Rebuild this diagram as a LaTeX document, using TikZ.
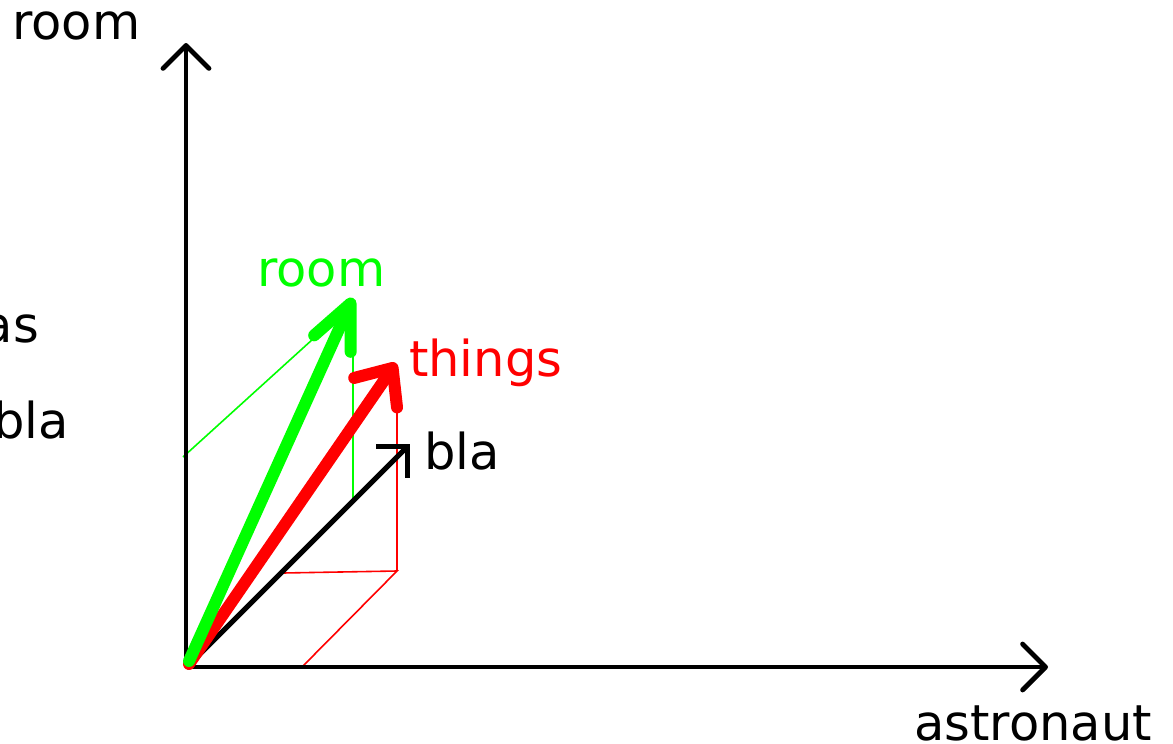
\documentclass[tikz,border=0pt]{standalone}
\usepackage{fontspec}
\setmainfont{DejaVu Sans}
\usetikzlibrary{arrows.meta}
\definecolor{vgreen}{RGB}{0,255,0}
\definecolor{vred}{RGB}{255,0,0}
\begin{document}
\begin{tikzpicture}[x=1pt,y=-1pt,
  lbl/.style={font=\fontsize{49.5}{60}\selectfont, inner sep=0pt, anchor=base west},
  lble/.style={lbl, anchor=base east},
  axis/.style={line width=4.8pt, -{Straight Barb[length=23pt,width=46pt,round]}},
  thin/.style={line width=1.6pt},
  gvec/.style={vgreen, line width=12pt, line cap=round, -{Straight Barb[length=44pt,width=40pt,round]}},
  rvec/.style={vred, line width=12pt, line cap=round, -{Straight Barb[length=30pt,width=52pt,round]}},
  bvec/.style={black, line width=5pt, -{Straight Barb[length=22pt,width=44pt]}}
]
\useasboundingbox (0,0) rectangle (1173,744);
\clip (0,0) rectangle (1173,744);
% coordinates
\coordinate (O) at (186,667);
\coordinate (ytip) at (186,43);
\coordinate (xtip) at (1048,667);
\coordinate (gS) at (189,661);
\coordinate (gT) at (353,298);
\coordinate (rS) at (189,664);
\coordinate (rT) at (396,363);
\coordinate (bS) at (190,664);
\coordinate (bT) at (410,444);
\coordinate (g1) at (183,457);
\coordinate (g2) at (324,329);
\coordinate (g3) at (353,352);
\coordinate (g4) at (353,499);
\coordinate (r1) at (397,408);
\coordinate (r2) at (397,571);
\coordinate (r3) at (283,573);
\coordinate (r4) at (302,667);
% thin projection lines
\draw[thin, vgreen] (g1) -- (g2);
\draw[thin, vgreen] (g3) -- (g4);
\draw[thin, vred] (r1) -- (r2);
\draw[thin, vred] (r3) -- (r2) -- (r4);
% axes
\draw[axis] (O) -- (ytip);
\draw[axis] (O) -- (xtip);
% vectors
\draw[bvec] (bS) -- (bT);
\draw[rvec] (rS) -- (rT);
\draw[gvec] (gS) -- (gT);
% labels
\node[lbl] (ylab) at (12,39) {room};
\node[lble] (xlab) at (1152,740) {astronaut};
\node[lble] (as) at (39,342) {as};
\node[lble] (bla1) at (69,438) {bla};
\node[lbl, text=vgreen] (groom) at (257,286) {room};
\node[lbl, text=vred] (things) at (409,376) {things};
\node[lbl] (bla2) at (424,469) {bla};
\end{tikzpicture}
\end{document}
